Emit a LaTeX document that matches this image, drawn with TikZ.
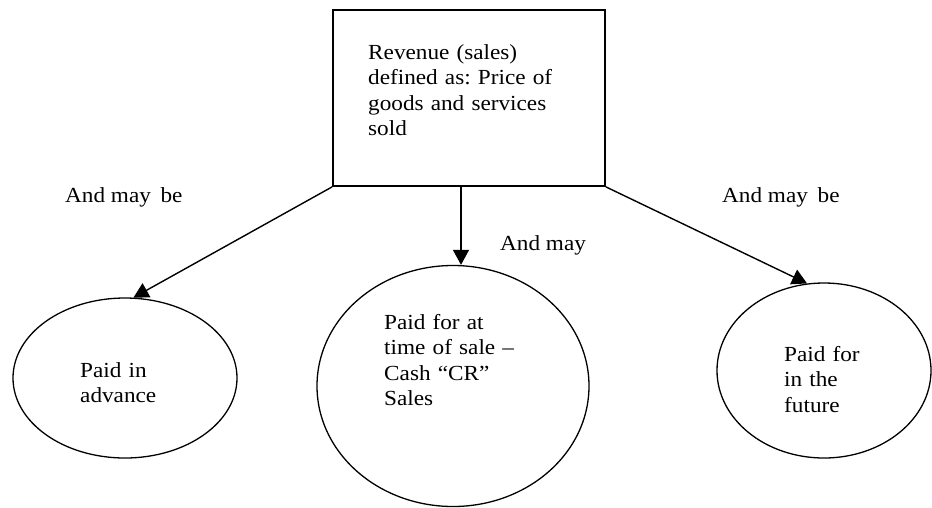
\documentclass[tikz,border=0pt]{standalone}
\usepackage{fontspec}
\setmainfont{Liberation Serif}[FakeStretch=1.08]
\usetikzlibrary{arrows.meta,shapes.geometric}
\frenchspacing
\begin{document}
\begin{tikzpicture}[x=1pt,y=-1pt,
  txt/.style={anchor=base west, inner sep=0pt, align=left, text width=#1,
    font=\fontsize{21.5}{25.6}\selectfont},
  lbl/.style={anchor=base west, inner sep=0pt, font=\fontsize{21.5}{25.6}\selectfont},
  boxst/.style={draw, line width=1.7pt, rectangle, inner sep=0pt},
  ell/.style={draw, line width=1.3pt, ellipse, inner sep=0pt},
  arr/.style={line width=1.4pt, -{Triangle[length=15pt,width=16pt]}}]
\useasboundingbox (0,0) rectangle (932,507);
% top box
\node[boxst, minimum width=272pt, minimum height=176pt] (box) at (469,98) {};
\node[txt=220pt] (boxtxt) at (368,59) {Revenue (sales)\\defined as: Price of\\goods and services\\sold};
% ellipses
\node[ell, minimum width=224pt, minimum height=160pt] (e1) at (125,378) {};
\node[ell, minimum width=272pt, minimum height=241pt] (e2) at (453,386) {};
\node[ell, minimum width=214pt, minimum height=175pt] (e3) at (824,370.5) {};
\node[txt=120pt] (t1) at (80,377) {Paid in\\advance};
\node[txt=160pt] (t2) at (384,329) {Paid for at\\time of sale --\\Cash ``CR''\\Sales};
\node[txt=100pt] (t3) at (784,361) {Paid for\\in the\\future};
% labels
\node[lbl] (l1) at (65,202) {And may\hspace{0.45em}be};
\node[lbl] (l2) at (500,250) {And may};
\node[lbl] (l3) at (722,202) {And may\hspace{0.45em}be};
% arrows
\coordinate (m) at (461,186);
\draw[arr] (box.south west) -- (e1.84);
\draw[arr] (m) -- (m |- e2.north);
\draw[arr] (box.south east) -- (e3.101);
\end{tikzpicture}
\end{document}
